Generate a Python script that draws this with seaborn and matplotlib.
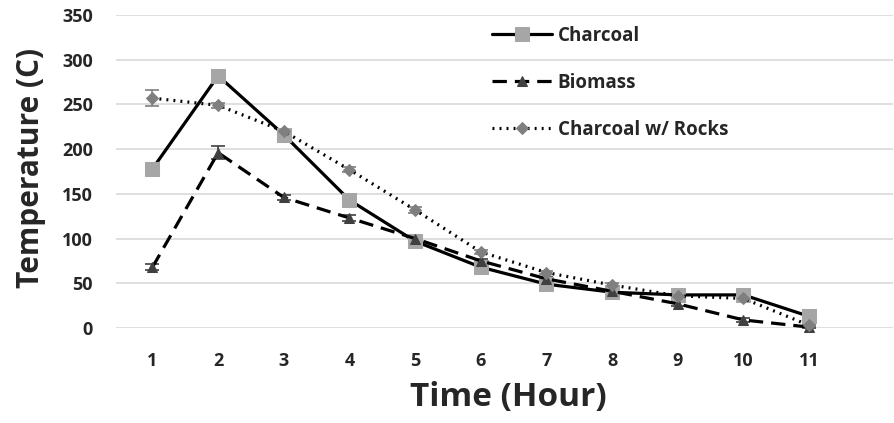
import numpy as np
import pandas as pd
import matplotlib
matplotlib.use('Agg')
import matplotlib.pyplot as plt
import seaborn as sns

# Data
HOURS = [1, 2, 3, 4, 5, 6, 7, 8, 9, 10, 11]
CHARCOAL = [178, 282, 216, 143, 97, 68, 49, 40, 37, 37, 13]
CHARCOAL_ERR = [3, 7, 4, 3, 3, 2, 2, 2, 2, 2, 2]
BIOMASS = [68, 196, 146, 123, 100, 75, 55, 41, 27, 9, 1]
BIOMASS_ERR = [3, 7, 3, 3, 2, 2, 2, 2, 2, 2, 1]
ROCKS = [257, 249, 220, 177, 132, 85, 62, 48, 36, 33, 3]
ROCKS_ERR = [9, 3, 3, 3, 3, 2, 2, 2, 2, 2, 1]

SERIES_NAMES = ['Charcoal', 'Biomass', 'Charcoal w/ Rocks']

sns.set_style('white')
plt.rcParams['font.family'] = ['Open Sans', 'DejaVu Sans']
plt.rcParams['font.weight'] = 'bold'

fig = plt.figure(figsize=(8.95, 4.23), dpi=100)
ax = fig.add_axes([0.13, 0.2246, 0.868, 0.74])

styles = [
    dict(linestyle='-', marker='s', mfc='#A6A6A6', ms=10, dashes=None),
    dict(linestyle='--', marker='^', mfc='#404040', ms=7.5, dashes=(4.5, 2.5)),
    dict(linestyle=':', marker='D', mfc='#7F7F7F', ms=6.5, dashes=(0.6, 1.6)),
]

for name, vals, errs, st in zip(SERIES_NAMES, [CHARCOAL, BIOMASS, ROCKS],
                                [CHARCOAL_ERR, BIOMASS_ERR, ROCKS_ERR], styles):
    df = pd.DataFrame({'Hour': HOURS, 'Temp': vals})
    ax.errorbar(HOURS, vals, yerr=errs, fmt='none', ecolor=st['mfc'],
                elinewidth=1.2, capsize=5, capthick=1.2, zorder=2)
    sns.lineplot(data=df, x='Hour', y='Temp', ax=ax, color='black',
                 linewidth=2.3, marker=st['marker'], markersize=st['ms'],
                 markerfacecolor=st['mfc'], markeredgecolor=st['mfc'],
                 label=name, zorder=3)
    l = ax.lines[-1]
    if st['dashes'] is not None:
        l.set_dashes(st['dashes'])
    l.set_clip_on(False)

ax.set_xlim(0.45, 12.28)
ax.set_ylim(0, 350)
ax.set_xticks(HOURS)
ax.set_yticks(np.arange(0, 351, 50))
ax.yaxis.grid(True, color='#D9D9D9', linewidth=1.2)
ax.xaxis.grid(False)
for s in ax.spines.values():
    s.set_visible(False)
ax.tick_params(axis='both', length=0, labelsize=13)
ax.tick_params(axis='y', pad=17)
ax.tick_params(axis='x', pad=17)
for lab in ax.get_xticklabels() + ax.get_yticklabels():
    lab.set_fontweight('bold')

ax.set_xlabel('Time (Hour)', fontsize=24, fontweight='bold', va='center')
ax.set_ylabel('Temperature (C)', fontsize=21.5, fontweight='bold', va='center')
ax.xaxis.set_label_coords(0.5045, -0.222)
ax.yaxis.set_label_coords(-0.11, 0.51)

leg = ax.legend(loc='upper left', bbox_to_anchor=(0.462, 1.02), frameon=False,
                fontsize=13.5, handlelength=3.2, labelspacing=1.45, handletextpad=0.3)
for t in leg.get_texts():
    t.set_fontweight('bold')

fig.savefig('out.png', dpi=100)
